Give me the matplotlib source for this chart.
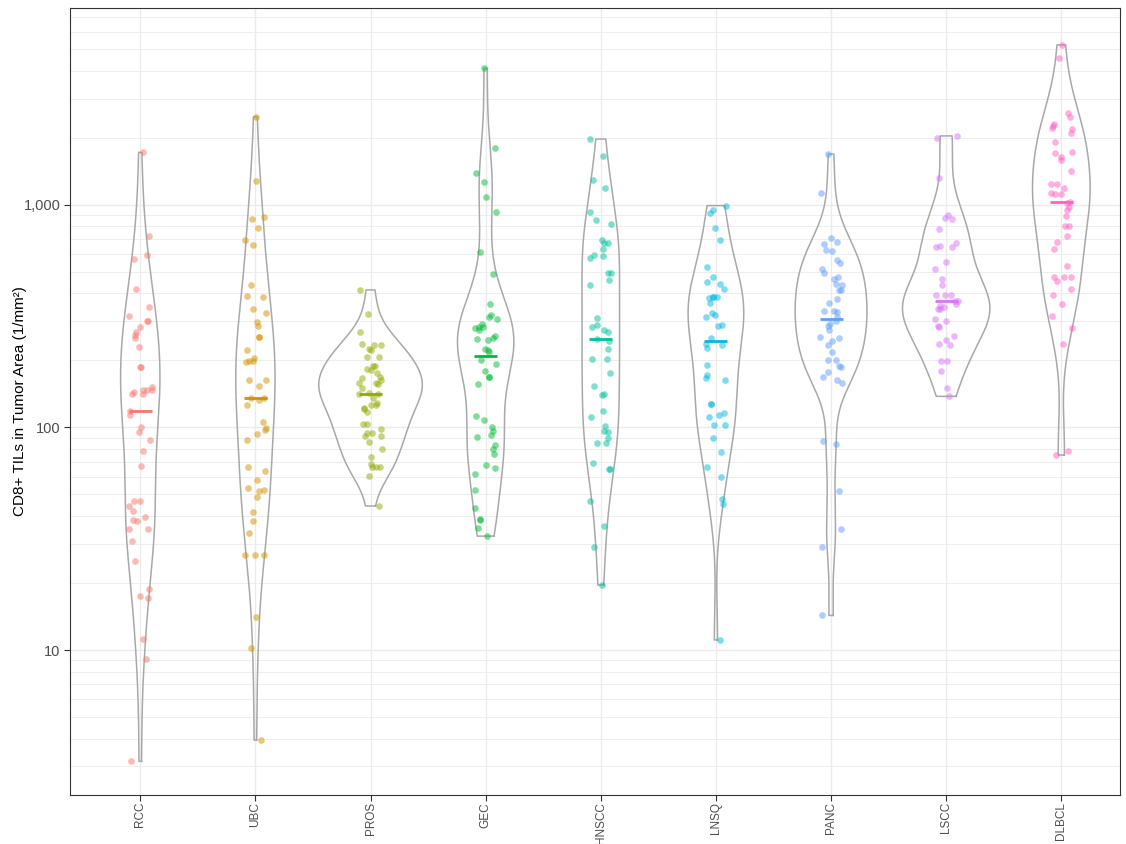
import matplotlib
matplotlib.use("Agg")
import matplotlib.pyplot as plt
import matplotlib.ticker as mticker
import numpy as np

plt.rcParams["font.family"] = ["Liberation Sans", "DejaVu Sans"]

# ── data (CD8+ TILs per mm²) ──────────────────────────────────
groups = ["RCC", "UBC", "PROS", "GEC", "HNSCC", "LNSQ", "PANC", "LSCC", "DLBCL"]
colors = ["#F8766D", "#D39200", "#93AA00", "#00BA38", "#00C19F",
          "#00B9E3", "#619CFF", "#DB72FB", "#FF61C3"]

rcc = [1723, 726, 598, 573, 420, 348, 316, 302, 300, 284, 269, 259, 253, 230,
       187, 187, 152, 148, 147, 147, 144, 142, 141, 118, 114, 101, 95, 87.5,
       78.6, 66.8, 46.9, 46.5, 44.3, 42.1, 39.6, 38.4, 38.0, 34.8, 34.9, 30.9,
       25.2, 18.8, 17.5, 17.2, 11.2, 9.1, 3.16]
ubc = [2489, 1276, 885, 863, 789, 698, 661, 437, 390, 387, 339, 327, 297, 286,
       254, 254, 223, 206, 199, 199, 197, 163, 163, 153, 136, 136, 133, 126,
       106, 99.3, 97.1, 93.1, 87.8, 66.1, 63.7, 57.8, 53.6, 52.6, 51.8, 48.6,
       41.6, 37.9, 33.4, 26.6, 26.6, 26.6, 14.0, 10.2, 3.94]
pros = [415, 324, 268, 237, 235, 234, 225, 223, 208, 208, 189, 188, 184, 181,
        175, 168, 166, 163, 159, 159, 156, 151, 143, 142, 142, 135, 129, 126,
        126, 122, 121, 117, 104, 104, 98, 94.2, 94, 91.6, 91.5, 85.8, 80.3,
        73.7, 68.8, 66.4, 66.2, 66.4, 60.3, 44.4]
gec = [4110, 1803, 1390, 1266, 1083, 927, 614, 488, 357, 321, 315, 307, 292,
       284, 283, 281, 275, 258, 253, 250, 246, 226, 224, 219, 201, 192, 180,
       168, 168, 157, 113, 108, 101, 96.6, 92.1, 90.8, 83.6, 79.9, 75.9, 67.7,
       65.6, 61.7, 52.2, 43.6, 38.9, 38.2, 35.5, 32.5]
hnscc = [1977, 1667, 1296, 1189, 933, 853, 824, 693, 675, 675, 636, 596, 588,
         577, 494, 494, 458, 438, 311, 290, 283, 274, 269, 249, 244, 225, 203,
         204, 175, 153, 140, 141, 119, 112, 102, 96.6, 95.3, 89.8, 85.5, 85.5,
         65.2, 65.2, 69.3, 46.6, 36, 29, 19.6]
lnsq = [993, 946, 918, 785, 694, 525, 476, 449, 440, 418, 387, 385, 384, 381,
        364, 327, 320, 313, 289, 287, 252, 237, 235, 227, 190, 172, 166, 163,
        128, 128, 116, 114, 111, 103, 103, 89.4, 77.3, 66.7, 59.7, 47.7, 45.3,
        11.1]
panc = [1694, 1128, 708, 684, 665, 626, 621, 564, 548, 517, 495, 473, 465,
        443, 437, 415, 415, 378, 363, 335, 335, 331, 313, 301, 293, 286, 274,
        255, 253, 245, 235, 219, 200, 200, 188, 187, 178, 168, 164, 159, 86.7,
        84.3, 52, 35, 29, 14.3]
lscc = [2042, 1995, 1322, 902, 877, 865, 783, 673, 655, 648, 644, 552, 517,
        464, 438, 394, 393, 393, 371, 371, 359, 353, 348, 341, 341, 308, 300,
        287, 284, 258, 247, 236, 234, 199, 199, 180, 151, 138]
dlbcl = [5238, 4562, 2587, 2475, 2311, 2273, 2227, 2198, 2115, 1920, 1738,
         1708, 1638, 1598, 1427, 1247, 1239, 1192, 1136, 1120, 1120, 1035,
         1018, 977, 947, 893, 800, 805, 727, 680, 634, 532, 475, 476, 475, 454,
         418, 393, 358, 317, 281, 237, 78.7, 75.2]

data = [rcc, ubc, pros, gec, hnscc, lnsq, panc, lscc, dlbcl]


def density(vals):
    # gaussian KDE on log10 scale, bw.nrd0, trimmed to data range (ggplot style)
    lv = np.log10(vals)
    n = len(lv)
    q75, q25 = np.percentile(lv, [75, 25])
    bw = 0.9 * min(lv.std(ddof=1), (q75 - q25) / 1.34) * n ** -0.2
    grid = np.linspace(lv.min(), lv.max(), 512)
    d = np.exp(-0.5 * ((grid[:, None] - lv[None, :]) / bw) ** 2).sum(1)
    d /= n * bw * np.sqrt(2 * np.pi)
    return grid, d


fig = plt.figure(figsize=(11.26, 8.44), dpi=100)
ax = fig.add_axes([0.0622, 0.058, 0.9325, 0.9325])
ax.set_yscale("log")

shapes = [density(np.array(v, dtype=float)) for v in data]
dmax = max(d.max() for _, d in shapes)

rng = np.random.default_rng(7)
for i, (vals, col, (g, d)) in enumerate(zip(data, colors, shapes)):
    hw = 0.45 * d / dmax
    xs = np.concatenate([i + hw, (i - hw)[::-1], [i + hw[0]]])
    ys = np.concatenate([10 ** g, (10 ** g)[::-1], [10 ** g[0]]])
    ax.plot(xs, ys, color="#A8A8A8", lw=1.1, zorder=2)

    jit = rng.uniform(-0.1, 0.1, len(vals))
    ax.scatter(i + jit, vals, s=23, color=col, alpha=0.5, lw=0, zorder=3)
    ax.hlines(np.median(vals), i - 0.1, i + 0.1, color=col, lw=2, zorder=4)

ax.set_xlim(-0.61, 8.51)
ax.set_ylim(2.23, 7670)
ax.set_xticks(range(len(groups)))
ax.set_xticklabels(groups, rotation=90, fontsize=8.5, color="#4D4D4D")
ax.yaxis.set_major_locator(mticker.FixedLocator([10, 100, 1000]))
ax.yaxis.set_major_formatter(mticker.FixedFormatter(["10", "100", "1,000"]))
ax.yaxis.set_minor_locator(mticker.LogLocator(base=10, subs=np.arange(2, 10)))
ax.yaxis.set_minor_formatter(mticker.NullFormatter())
ax.tick_params(axis="y", labelsize=10.5, labelcolor="#4D4D4D", pad=3)
ax.tick_params(axis="x", pad=1)
ax.tick_params(which="major", color="#333333", length=4, width=0.8)
ax.tick_params(which="minor", length=0)

ax.grid(which="major", color="#EBEBEB", lw=1.0, zorder=0)
ax.grid(which="minor", axis="y", color="#EBEBEB", lw=0.6, zorder=0)
ax.set_axisbelow(True)
for s in ax.spines.values():
    s.set_color("#333333")
    s.set_linewidth(0.8)

ax.set_ylabel("CD8+ TILs in Tumor Area (1/mm²)", fontsize=11)
ax.yaxis.set_label_coords(-0.041, 0.5)

fig.savefig("out.png", dpi=100)
